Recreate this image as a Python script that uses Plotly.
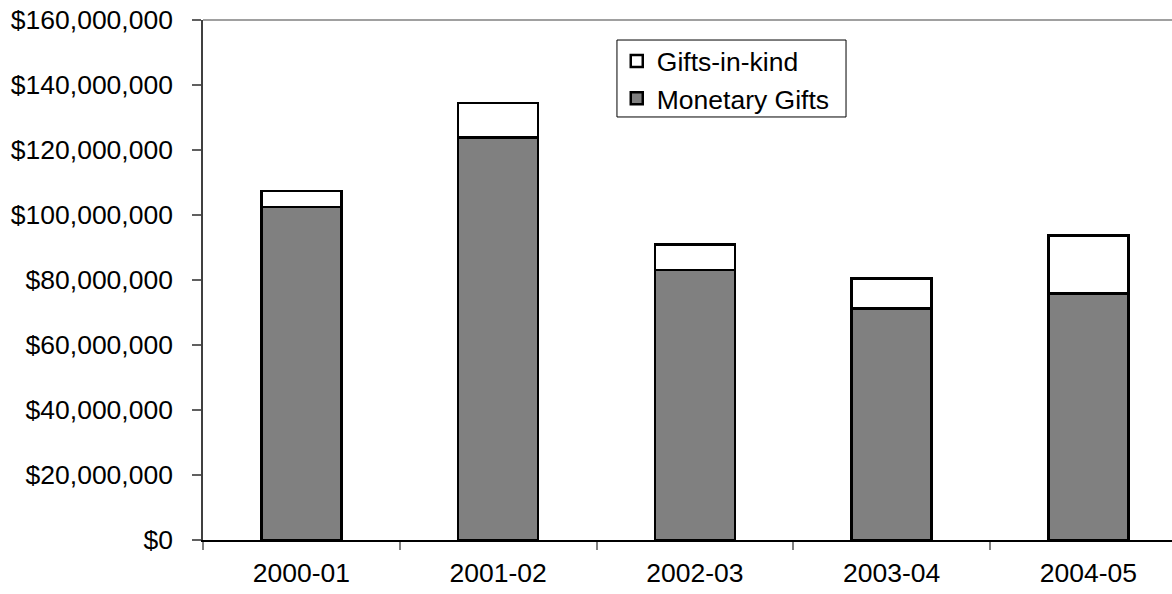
import plotly.graph_objects as go

years = ["2000-01", "2001-02", "2002-03", "2003-04", "2004-05"]
monetary = [102500000, 123900000, 83100000, 71300000, 75900000]
totals = [107400000, 134400000, 91000000, 80500000, 93700000]
in_kind = [t - m for t, m in zip(totals, monetary)]
y_ticks = list(range(0, 160000001, 20000000))
y_labels = ["$0"] + ["${:,}".format(v) for v in y_ticks[1:]]

fig = go.Figure()
fig.add_trace(go.Bar(x=years, y=monetary, name="Monetary Gifts",
                     marker=dict(color="#808080", line=dict(color="black", width=2.5))))
fig.add_trace(go.Bar(x=years, y=in_kind, name="Gifts-in-kind",
                     marker=dict(color="white", line=dict(color="black", width=2.5))))

fig.update_layout(
    barmode="stack", bargap=0.594,
    width=1172, height=594,
    margin=dict(l=203, r=0, t=20, b=54, pad=0),
    paper_bgcolor="white", plot_bgcolor="white",
    font=dict(family="Liberation Sans, Arial", size=26.5, color="black"),
    showlegend=True,
    legend=dict(x=0.427, y=0.967, xanchor="left", yanchor="top",
                traceorder="reversed", borderwidth=0,
                bgcolor="rgba(0,0,0,0)", font=dict(size=26.5), tracegroupgap=0),
    xaxis=dict(type="category", range=[-0.5, 4.425], showline=True,
               linecolor="black", linewidth=1.5,
               ticks="outside", ticklen=8, tickcolor="#808080", tickwidth=1.5,
               tickson="boundaries", showgrid=False, zeroline=False,
               ticklabelstandoff=8),
    yaxis=dict(range=[0, 160000000], tickvals=y_ticks, ticktext=y_labels,
               showline=True, linecolor="#404040", linewidth=1.5,
               ticks="outside", ticklen=9, tickcolor="#606060", tickwidth=1.5,
               showgrid=False, zeroline=False, ticklabelstandoff=14),
    shapes=[
        dict(type="line", xref="paper", yref="paper", x0=0, x1=1, y0=1, y1=1,
             line=dict(color="#808080", width=1.5)),
        dict(type="rect", xref="paper", yref="paper", x0=0.4272, x1=0.6636,
             y0=0.8135, y1=0.9615, line=dict(color="black", width=1),
             fillcolor="white", layer="below"),
    ],
)

fig.write_html("out.html", config={"displayModeBar": False},
               post_script="document.body.style.margin='0';document.body.style.overflow='hidden';")
